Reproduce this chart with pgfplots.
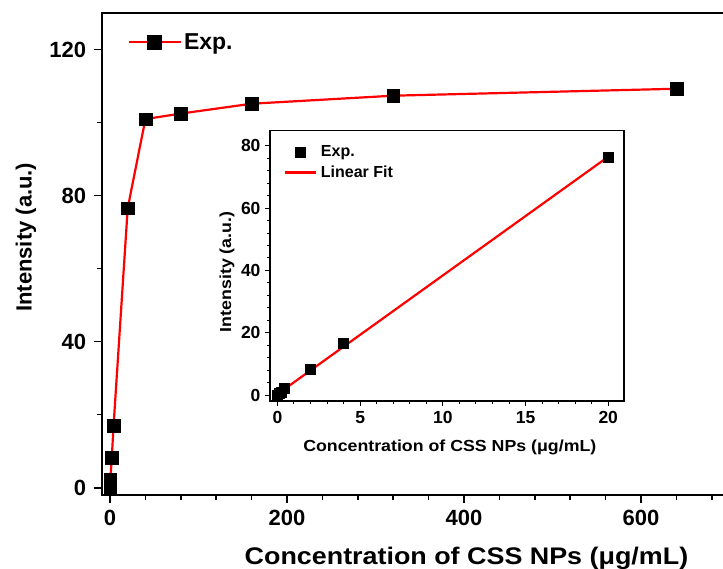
\documentclass[border=0pt]{standalone}
\usepackage{graphicx}
\usepackage{pgfplots}
\pgfplotsset{compat=1.18}
\usepackage{fontspec}
\setmainfont{Liberation Sans}
\begin{document}
\begin{tikzpicture}[x=1pt,y=1pt]
\path[use as bounding box, clip] (0,0) rectangle (723,568);
% main axis
\begin{axis}[
  at={(101.7pt,73pt)}, anchor=south west,
  scale only axis,
  x=0.885pt, y=3.65pt,
  xmin=-9.4, xmax=700, ymin=-2, ymax=130,
  axis line style={line width=2pt},
  xtick={0,200,400,600}, ytick={0,40,80,120},
  minor xtick={40,80,120,160,240,280,320,360,440,480,520,560,640,680},
  minor ytick={20,60,100},
  xtick pos=bottom, ytick pos=left,
  tick align=outside,
  major tick length=8pt, minor tick length=4.5pt,
  every tick/.style={line width=1.6pt, black},
  tick label style={font=\fontsize{22}{22}\selectfont\bfseries},
  /pgf/number format/assume math mode=true,
  xticklabel style={yshift=-4pt},
  yticklabel style={xshift=-4pt},
  xlabel={\scalebox{1.12}[1]{\bfseries Concentration of CSS NPs (μg/mL)}},
  ylabel={\bfseries Intensity (a.u.)},
  xlabel style={font=\fontsize{24}{24}\selectfont\bfseries, at={(axis description cs:0.581,0)}, anchor=base, yshift=-69pt},
  ylabel style={font=\fontsize{22}{22}\selectfont\bfseries, at={(axis description cs:0,0.535)}, anchor=base, yshift=70pt},
  legend style={draw=none, fill=none, inner sep=0pt, at={(axis cs:19.5,122)}, anchor=west,
    font=\fontsize{23}{23}\selectfont\bfseries, legend cell align=left,
    nodes={inner sep=2pt}},
  clip=false,
]
\addplot[red, line width=2.2pt, mark=square*, mark size=6.3pt,
  mark options={fill=black, draw=black, line width=0.4pt},
  legend image code/.code={
    \draw[red, line width=2.2pt] (0cm,0cm) -- (1.84cm,0cm);
    \fill[black] (0.92cm,0cm) +(-6.3pt,-6.3pt) rectangle +(6.3pt,6.3pt);}]
  coordinates {
  (0,0) (0.1,0.4) (0.2,1.0) (0.4,2.3) (2,8.2) (4,17.0) (20,76.6)
  (40,101.0) (80,102.5) (160,105.2) (320,107.4) (640,109.3)};
\addlegendentry{Exp.}
\end{axis}
% inset
\begin{axis}[
  at={(270pt,167pt)}, anchor=south west,
  scale only axis,
  x=16.54pt, y=3.116pt,
  xmin=-0.45, xmax=20.95, ymin=-1.9, ymax=84.8,
  axis background/.style={fill=white},
  axis line style={line width=1.3pt},
  xtick={0,5,10,15,20}, ytick={0,20,40,60,80},
  minor x tick num=4, minor y tick num=4,
  xtick pos=bottom, ytick pos=left,
  tick align=outside,
  major tick length=5pt, minor tick length=3pt,
  every tick/.style={line width=1pt, black},
  tick label style={font=\fontsize{17.5}{17.5}\selectfont\bfseries},
  /pgf/number format/assume math mode=true,
  xticklabel style={yshift=-2pt},
  yticklabel style={xshift=-1pt},
  xlabel={\scalebox{1.11}[1]{\bfseries Concentration of CSS NPs (μg/mL)}},
  ylabel={\scalebox{1.11}[1]{\bfseries Intensity (a.u.)}},
  label style={font=\fontsize{16}{16}\selectfont\bfseries},
  xlabel style={at={(axis description cs:0.508,0)}, anchor=base, yshift=-50.7pt},
  ylabel style={at={(axis description cs:0,0.478)}, anchor=base, yshift=39pt},
  legend style={draw=none, fill=none, inner sep=0pt, at={(axis cs:0.35,80.8)}, anchor=north west,
    font=\fontsize{16}{16}\selectfont\bfseries, legend cell align=left,
    nodes={inner sep=2pt}, row sep=4pt, column sep=2pt},
  clip=false,
]
\addplot[only marks, mark=square*, mark size=5pt, mark options={fill=black, draw=black},
  legend image code/.code={\fill[black] (0.55cm,0cm) +(-5pt,-5pt) rectangle +(5pt,5pt);}]
  coordinates {(0,0) (0.1,0.5) (0.2,1.0) (0.4,2.3) (2,8.3) (4,16.8) (20,76.5)};
\addlegendentry{Exp.}
\addplot[red, line width=2.2pt, no marks,
  legend image code/.code={\draw[red, line width=2.2pt] (0cm,0cm) -- (1.1cm,0cm);}]
  coordinates {(0,0.3) (20,76.5)};
\addlegendentry{Linear Fit}
\end{axis}
\end{tikzpicture}
\end{document}
